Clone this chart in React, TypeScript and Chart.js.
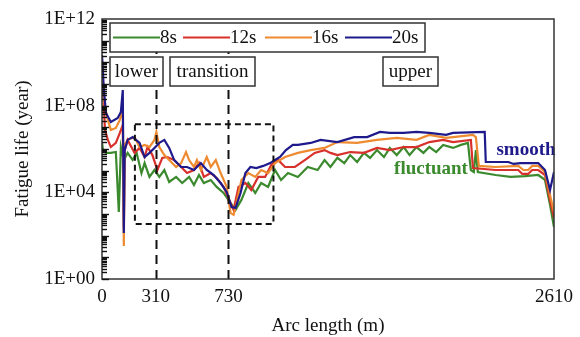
import React, { useEffect, useRef } from "react";
import { Chart, registerables } from "chart.js";

Chart.register(...registerables);

// ---------- data (arc length in m, fatigue life as log10(years)) ----------
const seriesNames = ["8s", "12s", "16s", "20s"];
const seriesColors = ["#3b8a2e", "#d8302b", "#ee8a30", "#1e1a8c"];

const green8sX = [0, 6, 23, 51, 80, 97, 109, 126, 148, 177, 200, 228, 246, 274, 303, 331, 360, 388, 428, 463, 503, 531, 560, 588, 628, 662, 702, 742, 771, 805, 845, 885, 919, 959, 999, 1034, 1074, 1131, 1188, 1245, 1285, 1319, 1359, 1399, 1433, 1473, 1513, 1548, 1588, 1628, 1662, 1702, 1742, 1776, 1816, 1856, 1890, 1930, 1970, 2027, 2073, 2113, 2130, 2147, 2159, 2170, 2273, 2359, 2444, 2519, 2558, 2587, 2610];
const green8sLog = [6.3, 5.95, 5.82, 5.82, 5.86, 3.09, 6.09, 5.49, 5.82, 5.49, 5.82, 4.89, 5.35, 4.71, 5.03, 4.71, 5.03, 4.48, 4.71, 4.43, 4.71, 4.34, 4.8, 4.43, 4.57, 4.25, 3.97, 3.51, 3.19, 3.65, 4.43, 3.97, 4.43, 4.25, 5.03, 4.57, 4.89, 4.71, 5.17, 5.03, 5.49, 5.17, 5.59, 5.35, 5.72, 5.4, 5.82, 5.59, 5.95, 5.63, 6.05, 5.72, 6.09, 5.72, 6.09, 5.82, 6.09, 5.86, 6.19, 6.05, 6.19, 6.28, 5.03, 4.94, 5.95, 4.94, 4.8, 4.71, 4.75, 4.8, 4.57, 3.42, 2.4];

const red12sX = [0, 17, 34, 51, 80, 103, 120, 126, 131, 148, 188, 217, 246, 263, 291, 320, 348, 377, 417, 457, 491, 531, 560, 588, 628, 662, 702, 742, 760, 788, 828, 862, 902, 942, 977, 1017, 1057, 1114, 1171, 1228, 1285, 1319, 1359, 1433, 1513, 1588, 1662, 1742, 1816, 1890, 1970, 2027, 2130, 2142, 2273, 2404, 2427, 2461, 2484, 2519, 2558, 2587, 2610];
const red12sLog = [10.11, 6.88, 6.42, 6.09, 6.28, 6.74, 7.11, 2.36, 5.95, 6.42, 5.82, 6.05, 5.63, 6.09, 5.72, 5.03, 5.59, 5.63, 5.49, 5.17, 4.89, 5.03, 5.35, 4.71, 4.89, 4.66, 4.25, 3.51, 3.19, 4.25, 4.43, 4.11, 4.71, 4.71, 5.26, 5.49, 5.17, 5.17, 5.49, 5.82, 5.95, 5.82, 5.72, 5.86, 5.82, 6.05, 5.95, 6.09, 6.09, 6.32, 6.42, 6.32, 6.42, 5.12, 5.03, 5.03, 4.85, 4.85, 5.03, 5.03, 4.8, 3.65, 2.82];

const orange16sX = [0, 17, 34, 51, 80, 103, 120, 126, 131, 148, 188, 217, 246, 274, 303, 314, 331, 360, 388, 428, 457, 485, 503, 531, 548, 571, 605, 628, 657, 685, 720, 742, 760, 777, 805, 845, 885, 919, 959, 999, 1057, 1131, 1205, 1285, 1359, 1473, 1588, 1702, 1816, 1890, 1987, 2027, 2142, 2159, 2176, 2273, 2404, 2433, 2461, 2484, 2519, 2558, 2587, 2610];
const orange16sLog = [9.42, 7.94, 7.34, 6.88, 6.97, 7.34, 7.8, 1.52, 6.19, 6.42, 6.55, 6.09, 6.19, 6.09, 6.42, 6.79, 6.09, 5.72, 5.49, 5.17, 5.35, 5.86, 5.49, 5.17, 5.49, 5.03, 5.63, 5.17, 5.49, 4.89, 4.25, 3.05, 2.96, 3.51, 4.57, 4.89, 4.71, 5.03, 4.89, 5.35, 5.63, 5.82, 5.95, 6.05, 6.32, 6.28, 6.42, 6.51, 6.42, 6.65, 6.51, 6.55, 6.65, 6.55, 5.22, 5.17, 5.22, 5.03, 5.03, 5.22, 5.22, 4.94, 3.88, 3.09];

const blue20sX = [0, 11, 23, 51, 91, 109, 120, 126, 131, 148, 177, 217, 246, 274, 303, 331, 360, 388, 417, 457, 491, 531, 571, 605, 645, 685, 720, 748, 771, 800, 828, 857, 891, 931, 971, 999, 1028, 1062, 1102, 1131, 1205, 1262, 1359, 1456, 1531, 1605, 1662, 1742, 1816, 1890, 1987, 2027, 2210, 2216, 2347, 2376, 2416, 2519, 2558, 2587, 2610];
const blue20sLog = [10.34, 8.72, 7.66, 7.25, 7.43, 7.71, 8.72, 2.12, 5.95, 6.42, 6.55, 6.28, 5.63, 5.82, 6.05, 6.28, 6.42, 6.05, 5.49, 5.17, 5.17, 5.03, 5.35, 5.03, 4.8, 4.43, 4.02, 3.32, 3.28, 3.97, 4.89, 5.17, 5.12, 5.22, 5.35, 5.49, 5.63, 5.95, 6.19, 6.19, 6.28, 6.42, 6.32, 6.55, 6.55, 6.79, 6.74, 6.74, 6.79, 6.74, 6.65, 6.74, 6.79, 5.4, 5.4, 5.31, 5.35, 5.35, 5.03, 4.11, 4.94];

const xTickValues = [0, 310, 730, 2610];
const yTickExponents = [0, 4, 8, 12];
const regionBoundaries = [310, 730];
const regionLabels = ["lower", "transition", "upper"];
const zoomBoxX = [190, 990];
const zoomBoxY = [1.4e7, 3.5e2];
const curveNotes = ["smooth", "fluctuant"];

const SERIF = "'Liberation Serif', 'Times New Roman', serif";

function toPoints(xs: number[], logs: number[]) {
  return xs.map((x, i) => ({ x, y: Math.pow(10, logs[i]) }));
}

const decorPlugin = {
  id: "decor",
  afterDatasetsDraw(chart: any) {
    const { ctx, chartArea } = chart;
    const xs = chart.scales.x;
    const ys = chart.scales.y;
    const L = chartArea.left, R = chartArea.right, T = chartArea.top, B = chartArea.bottom;
    ctx.save();

    // dashed vertical boundaries
    ctx.strokeStyle = "#111";
    ctx.lineWidth = 2;
    ctx.setLineDash([9, 6]);
    regionBoundaries.forEach((v) => {
      const px = Math.round(xs.getPixelForValue(v)) + 0.5;
      ctx.beginPath();
      ctx.moveTo(px, B);
      ctx.lineTo(px, T + 33);
      ctx.stroke();
    });

    // dashed zoom rectangle
    ctx.setLineDash([6, 4]);
    const rx0 = xs.getPixelForValue(zoomBoxX[0]);
    const rx1 = xs.getPixelForValue(zoomBoxX[1]);
    const ry0 = ys.getPixelForValue(zoomBoxY[0]);
    const ry1 = ys.getPixelForValue(zoomBoxY[1]);
    ctx.strokeRect(rx0, ry0, rx1 - rx0, ry1 - ry0);
    ctx.setLineDash([]);

    // legend box
    const lgL = L + 8, lgT = T + 4, lgW = 315, lgH = 29;
    ctx.fillStyle = "#fff";
    ctx.fillRect(lgL, lgT, lgW, lgH);
    ctx.strokeStyle = "#333";
    ctx.lineWidth = 1.5;
    ctx.strokeRect(lgL, lgT, lgW, lgH);
    const cy = lgT + lgH / 2;
    const itemOffsets = [3, 73, 155, 235];
    ctx.font = "19px " + SERIF;
    ctx.textBaseline = "middle";
    ctx.textAlign = "left";
    seriesNames.forEach((name, i) => {
      const x0 = lgL + itemOffsets[i];
      ctx.strokeStyle = seriesColors[i];
      ctx.lineWidth = 2;
      ctx.beginPath();
      ctx.moveTo(x0, cy);
      ctx.lineTo(x0 + 47, cy);
      ctx.stroke();
      ctx.fillStyle = "#111";
      ctx.fillText(name, x0 + 47, cy + 1);
    });

    // region label boxes
    const boxes = [
      { l: L + 8, w: 53 },
      { l: L + 68, w: 85 },
      { l: L + 281, w: 55 },
    ];
    ctx.font = "19px " + SERIF;
    ctx.textAlign = "center";
    boxes.forEach((b, i) => {
      const top = T + 38, h = 29;
      ctx.fillStyle = "#fff";
      ctx.fillRect(b.l, top, b.w, h);
      ctx.strokeStyle = "#333";
      ctx.lineWidth = 1.5;
      ctx.strokeRect(b.l, top, b.w, h);
      ctx.fillStyle = "#111";
      ctx.fillText(regionLabels[i], b.l + b.w / 2, top + h / 2 + 1);
    });

    // curve notes
    ctx.font = "bold 19px " + SERIF;
    ctx.fillStyle = seriesColors[3];
    ctx.fillText(curveNotes[0], L + 424, T + 131);
    ctx.fillStyle = seriesColors[0];
    ctx.fillText(curveNotes[1], L + 329, T + 150);

    // frame
    ctx.strokeStyle = "#333";
    ctx.lineWidth = 1.5;
    ctx.strokeRect(L, T, R - L, B - T);

    // log minor ticks on y axis (inward)
    ctx.strokeStyle = "#111";
    ctx.lineWidth = 1.4;
    for (let d = 0; d < 12; d++) {
      for (let k = 1; k <= 9; k++) {
        const py = Math.round(ys.getPixelForValue(k * Math.pow(10, d))) + 0.5;
        const len = k === 1 ? 7 : 5;
        ctx.beginPath();
        ctx.moveTo(L, py);
        ctx.lineTo(L + len, py);
        ctx.stroke();
      }
    }
    ctx.restore();
  },
};

export default function App() {
  const ref = useRef<HTMLCanvasElement | null>(null);
  useEffect(() => {
    if (!ref.current) return;
    const chart = new Chart(ref.current, {
      type: "line",
      data: {
        datasets: [
          { label: seriesNames[0], data: toPoints(green8sX, green8sLog), borderColor: seriesColors[0], order: 4 },
          { label: seriesNames[1], data: toPoints(red12sX, red12sLog), borderColor: seriesColors[1], order: 3 },
          { label: seriesNames[2], data: toPoints(orange16sX, orange16sLog), borderColor: seriesColors[2], order: 2 },
          { label: seriesNames[3], data: toPoints(blue20sX, blue20sLog), borderColor: seriesColors[3], order: 1 },
        ].map((d) => ({ ...d, borderWidth: 2.2, pointRadius: 0, tension: 0, fill: false })),
      },
      options: {
        animation: false,
        responsive: false,
        layout: { padding: { left: 0, top: 19, right: 21, bottom: 0 } },
        plugins: { legend: { display: false }, tooltip: { enabled: false } },
        scales: {
          x: {
            type: "linear",
            min: 0,
            max: 2610,
            afterBuildTicks: (s: any) => {
              s.ticks = xTickValues.map((v) => ({ value: v }));
            },
            afterFit: (s: any) => {
              s.height = 58;
            },
            grid: { display: false, drawTicks: false },
            border: { display: false },
            ticks: {
              autoSkip: false,
              maxRotation: 0,
              padding: 7,
              color: "#111",
              font: { family: SERIF, size: 19 },
              callback: (v: any) => String(v),
            },
            title: {
              display: true,
              text: "Arc length (m)",
              color: "#111",
              font: { family: SERIF, size: 19 },
              padding: { top: 0, bottom: 0 },
            },
          },
          y: {
            type: "logarithmic",
            min: 1,
            max: 1e12,
            afterBuildTicks: (s: any) => {
              s.ticks = yTickExponents.map((e) => ({ value: Math.pow(10, e) }));
            },
            afterFit: (s: any) => {
              s.width = 102;
            },
            grid: { display: false, drawTicks: false },
            border: { display: false },
            ticks: {
              autoSkip: false,
              padding: 7,
              color: "#111",
              font: { family: SERIF, size: 19 },
              callback: (v: any) => "1E+" + String(Math.round(Math.log10(v))).padStart(2, "0"),
            },
            title: {
              display: true,
              text: "Fatigue life (year)",
              color: "#111",
              font: { family: SERIF, size: 19 },
              padding: { top: 12, bottom: 0 },
            },
          },
        },
      },
      plugins: [decorPlugin],
    });
    return () => chart.destroy();
  }, []);
  return (
    <div style={{ position: "fixed", left: 0, top: 0, width: 580, height: 337, background: "#fff" }}>
      <canvas ref={ref} width={580} height={337} style={{ display: "block" }} />
    </div>
  );
}
